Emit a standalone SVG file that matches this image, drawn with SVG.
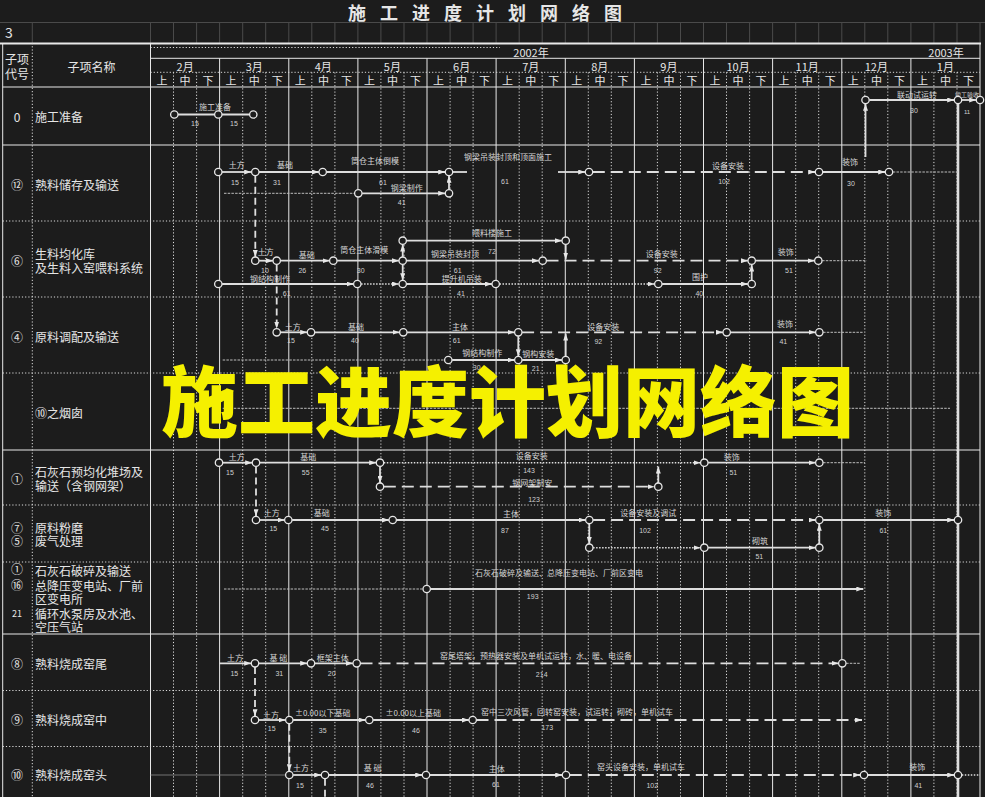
<svg xmlns="http://www.w3.org/2000/svg" width="985" height="797" viewBox="0 0 985 797">
<style>
.gs{stroke:#e8e8e8;stroke-width:1;fill:none}
.gd{stroke:#dcdcdc;stroke-width:1;stroke-dasharray:1.2 2;fill:none}
.gc{stroke:#4a4a4a;stroke-width:1;fill:none}
.t{font-family:"Noto Sans CJK SC","Noto Sans",sans-serif;fill:#e6e6e6}
.nm{font-size:12px}
.cd{font-size:12px;text-anchor:middle}
.hd{font-size:11px;text-anchor:middle}
.lb{font-family:"Noto Sans CJK SC",sans-serif;font-size:8px;fill:#d6d6d6;text-anchor:middle}
.nu{font-family:"Liberation Sans",sans-serif;font-size:7px;fill:#d0d0d0;text-anchor:middle}
.a{stroke:#dedede;stroke-width:1.8;fill:none}
.ds{stroke-dasharray:12 6}
.ds2{stroke-dasharray:7 4}
.vd{stroke-dasharray:1.5 1.5;stroke-width:1.5}
.wv{stroke:#bdbdbd;stroke-width:1;stroke-dasharray:2.5 1.2;fill:none}
.ar{marker-end:url(#ah)}
.nd{fill:#1c1c1c;stroke:#e6e6e6;stroke-width:1.3}
</style>
<defs>
<marker id="ah" viewBox="0 0 10 10" refX="10" refY="5" markerWidth="7" markerHeight="5" preserveAspectRatio="none" markerUnits="userSpaceOnUse" orient="auto"><path d="M0,0 L10,5 L0,10 z" fill="#e6e6e6"/></marker>
</defs>
<rect width="985" height="797" fill="#1c1c1c"/>

<g id="title">
<text class="t" style="font-size:18px;font-weight:bold" y="19.5" x="348 380 412 444 476 508 540 572 604">施工进度计划网络图</text>
</g>

<g id="sheet-row">
<path class="gc" d="M0 22.5H985M32.3 22.5V43M150.5 22.5V43M173.5 22.5V43M196.6 22.5V43M219.6 22.5V43M242.7 22.5V43M265.7 22.5V43M288.8 22.5V43M311.8 22.5V43M334.9 22.5V43M357.9 22.5V43M380.9 22.5V43M404 22.5V43M427 22.5V43M450.1 22.5V43M473.1 22.5V43M496.1 22.5V43M519.2 22.5V43M542.2 22.5V43M565.3 22.5V43M588.3 22.5V43M611.3 22.5V43M634.4 22.5V43M657.4 22.5V43M680.5 22.5V43M703.5 22.5V43M726.5 22.5V43M749.6 22.5V43M772.6 22.5V43M795.7 22.5V43M818.7 22.5V43M841.8 22.5V43M864.8 22.5V43M887.8 22.5V43M910.9 22.5V43M933.9 22.5V43M957 22.5V43M980 22.5V43"/>
<text class="t" style="font-size:14px" x="5" y="38">3</text>
</g>

<g id="grid">
<path class="gs" style="stroke-width:2.2" d="M0 43.5H981"/>
<path class="gs" d="M2.7 43V797M150.5 43V797M980 43V797M150.5 58.3H980M2.7 87H980M2.7 145H980M2.7 450H980M2.7 634H980"/>
<path class="gs" d="M219.6 58.3V797M288.8 58.3V797M357.9 58.3V797M427 58.3V797M496.1 58.3V797M565.3 58.3V797M634.4 58.3V797M703.5 58.3V797M772.6 58.3V797M841.8 58.3V797M910.9 58.3V797"/>
<path class="gd" d="M32.3 43V797M150.5 47.5H500M150.5 72.3H980M2.7 221H980M2.7 297H980M2.7 373H980M2.7 505H980M2.7 562H980M2.7 690.5H980M2.7 746.5H980"/>
<path class="gd" d="M173.5 72.3V797M196.6 72.3V797M242.7 72.3V797M265.7 72.3V797M311.8 72.3V797M334.9 72.3V797M380.9 72.3V797M404 72.3V797M450.1 72.3V797M473.1 72.3V797M519.2 72.3V797M542.2 72.3V797M588.3 72.3V797M611.3 72.3V797M657.4 72.3V797M680.5 72.3V797M726.5 72.3V797M749.6 72.3V797M795.7 72.3V797M818.7 72.3V797M864.8 72.3V797M887.8 72.3V797M933.9 72.3V797M957 72.3V797"/>
</g>

<g id="header">
<text class="t cd" x="17" y="64">子项</text>
<text class="t cd" x="17" y="78.5">代号</text>
<text class="t cd" x="91.5" y="71.5">子项名称</text>
<text class="t hd" x="531" y="57">2002年</text>
<text class="t hd" x="946" y="57">2003年</text>
<text class="t hd" x="185.1" y="70.5">2月</text><text class="t hd" x="254.2" y="70.5">3月</text><text class="t hd" x="323.3" y="70.5">4月</text><text class="t hd" x="392.4" y="70.5">5月</text><text class="t hd" x="461.6" y="70.5">6月</text><text class="t hd" x="530.7" y="70.5">7月</text><text class="t hd" x="599.8" y="70.5">8月</text><text class="t hd" x="668.9" y="70.5">9月</text><text class="t hd" x="738.1" y="70.5">10月</text><text class="t hd" x="807.2" y="70.5">11月</text><text class="t hd" x="876.3" y="70.5">12月</text><text class="t hd" x="945.4" y="70.5">1月</text>
<text class="t hd" y="85" x="162 185.1 208.1 231.1 254.2 277.2 300.3 323.4 346.4 369.4 392.5 415.5 438.5 461.6 484.6 507.6 530.7 553.7 576.8 599.9 622.9 645.9 669 692 715 738.1 761.1 784.1 807.2 830.2 853.3 876.4 899.4 922.4 945.5 968.5">上中下上中下上中下上中下上中下上中下上中下上中下上中下上中下上中下上中下</text>
</g>

<g id="item-0"><text class="t cd" x="17" y="121.5">0</text><text class="t nm" x="35" y="122">施工准备</text></g>
<g id="item-12"><text class="t cd" x="17" y="190">⑫</text><text class="t nm" x="35" y="190">熟料储存及输送</text></g>
<g id="item-6"><text class="t cd" x="17" y="266">⑥</text><text class="t nm" x="35" y="259">生料均化库</text><text class="t nm" x="35" y="273">及生料入窑喂料系统</text></g>
<g id="item-4"><text class="t cd" x="17" y="342">④</text><text class="t nm" x="35" y="342">原料调配及输送</text></g>
<g id="item-10a"><text class="t nm" x="35" y="418">⑩之烟囱</text></g>
<g id="item-1"><text class="t cd" x="17" y="484">①</text><text class="t nm" x="35" y="477">石灰石预均化堆场及</text><text class="t nm" x="35" y="491">输送（含钢网架）</text></g>
<g id="item-7-5"><text class="t cd" x="17" y="533">⑦</text><text class="t cd" x="17" y="546">⑤</text><text class="t nm" x="35" y="533">原料粉磨</text><text class="t nm" x="35" y="546">废气处理</text></g>
<g id="item-1-16-21"><text class="t cd" x="17" y="574">①</text><text class="t cd" x="17" y="589.5">⑯</text><text class="t cd" style="font-size:9px" x="17" y="616.5">21</text><text class="t nm" x="35" y="576">石灰石破碎及输送</text><text class="t nm" x="35" y="590.5">总降压变电站、厂前</text><text class="t nm" x="35" y="604">区变电所</text><text class="t nm" x="35" y="618.5">循环水泵房及水池、</text><text class="t nm" x="35" y="632">空压气站</text></g>
<g id="item-8"><text class="t cd" x="17" y="669">⑧</text><text class="t nm" x="35" y="669">熟料烧成窑尾</text></g>
<g id="item-9"><text class="t cd" x="17" y="724.5">⑨</text><text class="t nm" x="35" y="724.5">熟料烧成窑中</text></g>
<g id="item-10"><text class="t cd" x="17" y="779.5">⑩</text><text class="t nm" x="35" y="779.5">熟料烧成窑头</text></g>

<g id="connectors">
<path class="a" style="stroke-width:2" d="M178 114.5H214.6M222 114.5H249.6"/>
<path class="a ar" d="M869.3 100H954.2"/>
<path class="a ar" d="M961.8 100H976.2"/>
<path class="a ar" d="M865.5 157V103.8"/>
<path class="a" style="stroke-width:2.6" d="M958 103.8V797"/>

<path class="a ar" d="M222 172H251.2"/>
<path class="a ar" d="M258.8 172H318.9"/>
<path class="a ar" d="M326.5 172H445.2"/>
<path class="a" d="M452.8 172H467"/>
<path class="a ar" d="M558 172H585.2"/>
<path class="a ds ar" d="M592.8 172H815.2"/>
<path class="a ar" d="M822.8 172H885.2"/>
<path class="wv" d="M892.8 172H958"/>
<path class="wv" d="M224 193.3H354.5"/>
<path class="a ar" d="M362.1 193.3H445.2"/>
<path class="a ar" d="M449 189.5V175.8"/>
<path class="a ds2 ar" d="M255.3 175.8V256.9"/>

<path class="a ar" d="M259.1 260.7H272.9"/>
<path class="a ar" d="M280.5 260.7H329.5"/>
<path class="a ar" d="M337.1 260.7H398.9"/>
<path class="a ar" d="M406.5 260.7H538.9"/>
<path class="a ds ar" d="M546.5 260.7H747.9"/>
<path class="a ar" d="M755.5 260.7H814.5"/>
<path class="wv" d="M822.1 260.7H866.7"/>
<path class="a ar" d="M406.5 240.7H561.9"/>
<path class="a ar" d="M402.7 256.9V244.5"/>
<path class="a ar" d="M565.7 244.5V259.5"/>
<path class="a ar" d="M402.7 264.5V280.2"/>
<path class="a ar" d="M222.1 284H353.5"/>
<path class="a vd ar" d="M361.1 284H398.9"/>
<path class="a ar" d="M406.5 284H491.9"/>
<path class="a vd ar" d="M499.5 284H654.5"/>
<path class="a ar" d="M662.1 284H747.9"/>
<path class="a ar" d="M751.7 280.2V264.5"/>
<path class="a ds2 ar" d="M276.7 264.5V328.5"/>

<path class="a ar" d="M280.5 332.3H307.2"/>
<path class="a ar" d="M314.8 332.3H399.5"/>
<path class="a ar" d="M407.1 332.3H514.5"/>
<path class="a ds ar" d="M522.1 332.3H722.9"/>
<path class="a ar" d="M730.5 332.3H815.5"/>
<path class="wv" d="M823.1 332.3H863.3"/>
<path class="wv" d="M222.7 360H444.5"/>
<path class="a ar" d="M452.1 360H514.5"/>
<path class="a ar" d="M522.1 360H561.9"/>
<path class="a ar" d="M518.3 336.1V356.2"/>
<path class="a ar" d="M565.7 356.2V333.5"/>

<path class="wv" d="M222.7 408.3H950"/>

<path class="a ar" d="M222.8 462.7H252.2"/>
<path class="a ar" d="M259.8 462.7H376.2"/>
<path class="a vd ar" d="M383.8 462.7H700.5"/>
<path class="a ar" d="M708.1 462.7H815.5"/>
<path class="wv" d="M823.1 462.7H865"/>
<path class="a ds ar" d="M383.8 486.7H654.5"/>
<path class="a ar" d="M380 466.5V482.9"/>
<path class="a ar" d="M658.3 482.9V466.5"/>
<path class="a ds2 ar" d="M256 466.5V516.2"/>

<path class="a ar" d="M259.8 520H284.5"/>
<path class="a ar" d="M292.1 520H388.9"/>
<path class="a ar" d="M396.5 520H585.5"/>
<path class="a ds ar" d="M593.1 520H815.5"/>
<path class="a ar" d="M823.1 520H954.2"/>
<path class="a vd ar" d="M593.1 547.7H700.5"/>
<path class="a ar" d="M708.1 547.7H815.5"/>
<path class="a ar" d="M589.3 523.8V543.9"/>
<path class="a ar" d="M819.3 543.9V523.8"/>

<path class="wv" d="M224 589H422.9"/>
<path class="a ar" d="M430.5 589H863.3"/>

<path class="a ar" d="M219.3 663.3H251.2"/>
<path class="a ar" d="M258.8 663.3H307.2"/>
<path class="a ar" d="M314.8 663.3H352.9"/>
<path class="a ds ar" d="M360.5 663.3H838.5"/>
<path class="wv" d="M846.1 663.3H860"/>
<path class="a ds2 ar" d="M255 667.1V716.2"/>

<path class="a ar" d="M258.8 720H285.5"/>
<path class="a ar" d="M293.1 720H365.5"/>
<path class="a ar" d="M373.1 720H468.9"/>
<path class="a ds ar" d="M476.5 720H862"/>
<path class="a ds2 ar" d="M289.3 723.8V771.2"/>

<path style="stroke:#8a8a8a;stroke-width:0.8;fill:none" d="M150.5 775H285.5"/>
<path class="a ar" d="M293.1 775H321.2"/>
<path class="a ar" d="M328.8 775H422.2"/>
<path class="a ar" d="M429.8 775H562.2"/>
<path class="a ds ar" d="M569.8 775H860.2"/>
<path class="a ar" d="M867.8 775H954.2"/>
<path class="a vd" d="M961.8 775H980"/>
<path class="a ds2" d="M325 778.8V797"/>
</g>

<g id="labels">
<text class="lb" x="215" y="110.3">施工准备</text><text class="nu" x="195" y="125.5">15</text><text class="nu" x="234" y="125.5">15</text>
<text class="lb" x="917" y="97.5">联动试运转</text><text class="nu" x="914" y="112.5">30</text>
<text class="lb" style="font-size:6px" x="967" y="96.5">竣工验收</text><text class="nu" style="font-size:6px" x="967" y="114">11</text>

<text class="lb" x="236.7" y="168">土方</text><text class="nu" x="235" y="184.5">15</text>
<text class="lb" x="285" y="168">基础</text><text class="nu" x="277" y="184.5">31</text>
<text class="lb" x="375" y="164">筒仓主体倒模</text><text class="nu" x="383" y="184.5">61</text>
<text class="lb" x="508" y="160">钢梁吊装封顶和顶面施工</text><text class="nu" x="505" y="184">61</text>
<text class="lb" x="728" y="169">设备安装</text><text class="nu" x="724" y="183.5">102</text>
<text class="lb" x="850" y="165">装饰</text><text class="nu" x="851" y="186">30</text>
<text class="lb" x="406.7" y="190.7">钢梁制作</text><text class="nu" x="401.7" y="204.8">41</text>

<text class="lb" x="265.7" y="254.7">土方</text><text class="nu" x="265" y="272.5">10</text>
<text class="lb" x="306.7" y="258">基础</text><text class="nu" x="302.3" y="272.5">26</text>
<text class="lb" x="364.3" y="253">筒仓主体滑模</text><text class="nu" x="360.7" y="272.5">30</text>
<text class="lb" x="455" y="257.3">钢梁吊装封顶</text><text class="nu" x="457.7" y="272.5">61</text>
<text class="lb" x="661.7" y="257.3">设备安装</text><text class="nu" x="657.7" y="272.5">92</text>
<text class="lb" x="785.7" y="255.3">装饰</text><text class="nu" x="789" y="273">51</text>
<text class="lb" x="492" y="236.3">喂料楼施工</text><text class="nu" x="492" y="253.5">72</text>
<text class="lb" x="270" y="282">钢结构制作</text><text class="nu" x="286.7" y="296">61</text>
<text class="lb" x="461.7" y="281.5">提升机吊装</text><text class="nu" x="461" y="295.8">41</text>
<text class="lb" x="700" y="280.3">围护</text><text class="nu" x="699.3" y="295.8">40</text>

<text class="lb" x="292.7" y="329.7">土方</text><text class="nu" x="291" y="343.2">15</text>
<text class="lb" x="356" y="329.7">基础</text><text class="nu" x="355" y="343.2">40</text>
<text class="lb" x="460" y="329.7">主体</text><text class="nu" x="456.7" y="343.2">61</text>
<text class="lb" x="603.3" y="330.3">设备安装</text><text class="nu" x="598.3" y="344">92</text>
<text class="lb" x="785" y="327">装饰</text><text class="nu" x="783.3" y="344">41</text>
<text class="lb" x="482.3" y="355.7">钢结构制作</text><text class="nu" x="476.7" y="370">30</text>
<text class="lb" x="538.3" y="357">钢构安装</text><text class="nu" x="535.7" y="371">21</text>

<text class="lb" x="236.7" y="460.3">土方</text><text class="nu" x="230" y="475.2">15</text>
<text class="lb" x="308.3" y="460.3">基础</text><text class="nu" x="305.7" y="475.2">55</text>
<text class="lb" x="531.7" y="459">设备安装</text><text class="nu" x="529" y="473.2">143</text>
<text class="lb" x="731.7" y="460.3">装饰</text><text class="nu" x="733.3" y="474.5">51</text>
<text class="lb" x="532.3" y="485.7">钢网架制安</text><text class="nu" x="534" y="501.8">123</text>

<text class="lb" x="271.7" y="516.3">土方</text><text class="nu" x="273.3" y="531.2">15</text>
<text class="lb" x="321.7" y="516.3">基础</text><text class="nu" x="325" y="531.2">45</text>
<text class="lb" x="511" y="517.3">主体</text><text class="nu" x="505" y="532.5">87</text>
<text class="lb" x="648.3" y="515.7">设备安装及调试</text><text class="nu" x="645" y="532.5">102</text>
<text class="lb" x="883.3" y="516.3">装饰</text><text class="nu" x="883.3" y="533.2">61</text>
<text class="lb" x="760" y="543.7">砌筑</text><text class="nu" x="759.3" y="559.2">51</text>

<text class="lb" x="559" y="576.3">石灰石破碎及输送、总降压变电站、厂前区变电</text><text class="nu" x="532.7" y="599.2">193</text>

<text class="lb" x="235" y="661.3">土方</text><text class="nu" x="234.3" y="675.8">15</text>
<text class="lb" x="278.3" y="661.3">基 础</text><text class="nu" x="279.3" y="675.8">31</text>
<text class="lb" x="332.7" y="661.3">框架主体</text><text class="nu" x="331.7" y="675.8">20</text>
<text class="lb" x="536" y="658.7">窑尾塔架，预热器安装及单机试运转，水、暖、电设备</text><text class="nu" x="541.7" y="676.5">214</text>

<text class="lb" x="271" y="718">土方</text><text class="nu" x="271.7" y="730.8">15</text>
<text class="lb" x="322.7" y="715.7">±0.00以下基础</text><text class="nu" x="322.7" y="732.5">35</text>
<text class="lb" x="413.3" y="715.7">±0.00以上基础</text><text class="nu" x="416" y="732.5">46</text>
<text class="lb" x="577" y="715.3">窑中三次风管，回转窑安装，试运转，砌砖，单机试车</text><text class="nu" x="547.3" y="729.8">173</text>

<text class="lb" x="301" y="771.3">土方</text><text class="nu" x="300" y="787.5">15</text>
<text class="lb" x="372.7" y="771.3">基 础</text><text class="nu" x="370" y="787.5">46</text>
<text class="lb" x="496.7" y="772.3">主体</text><text class="nu" x="496" y="786.8">61</text>
<text class="lb" x="641" y="769.7">窑头设备安装，单机试车</text><text class="nu" x="652.3" y="787.5">102</text>
<text class="lb" x="917.3" y="769.7">装饰</text><text class="nu" x="918.3" y="787.5">41</text>
</g>

<g id="events">
<g id="e0-1"><circle class="nd" cx="174.3" cy="114.5" r="3.7"/></g>
<g id="e0-2"><circle class="nd" cx="218.3" cy="114.5" r="3.7"/></g>
<g id="e0-3"><circle class="nd" cx="253.3" cy="114.5" r="3.7"/></g>
<g id="e0-4"><circle class="nd" cx="865.5" cy="100" r="3.7"/></g>
<g id="e0-5"><circle class="nd" cx="958" cy="100" r="3.7"/></g>
<g id="e0-6"><circle class="nd" cx="980" cy="100" r="3.7"/></g>

<g id="e12-1"><circle class="nd" cx="218.3" cy="172" r="3.7"/></g>
<g id="e12-2"><circle class="nd" cx="255.3" cy="172" r="3.7"/></g>
<g id="e12-3"><circle class="nd" cx="322.7" cy="172" r="3.7"/></g>
<g id="e12-4"><circle class="nd" cx="449" cy="172" r="3.7"/></g>
<g id="e12-5"><circle class="nd" cx="589" cy="172" r="3.7"/></g>
<g id="e12-6"><circle class="nd" cx="819" cy="172" r="3.7"/></g>
<g id="e12-7"><circle class="nd" cx="889" cy="172" r="3.7"/></g>
<g id="e12-8"><circle class="nd" cx="358.3" cy="193.3" r="3.7"/></g>
<g id="e12-9"><circle class="nd" cx="449" cy="193.3" r="3.7"/></g>

<g id="e6-1"><circle class="nd" cx="255.3" cy="260.7" r="3.7"/></g>
<g id="e6-2"><circle class="nd" cx="276.7" cy="260.7" r="3.7"/></g>
<g id="e6-3"><circle class="nd" cx="333.3" cy="260.7" r="3.7"/></g>
<g id="e6-4"><circle class="nd" cx="402.7" cy="260.7" r="3.7"/></g>
<g id="e6-5"><circle class="nd" cx="542.7" cy="260.7" r="3.7"/></g>
<g id="e6-6"><circle class="nd" cx="751.7" cy="260.7" r="3.7"/></g>
<g id="e6-7"><circle class="nd" cx="818.3" cy="260.7" r="3.7"/></g>
<g id="e6-8"><circle class="nd" cx="402.7" cy="240.7" r="3.7"/></g>
<g id="e6-9"><circle class="nd" cx="565.7" cy="240.7" r="3.7"/></g>
<g id="e6-10"><circle class="nd" cx="218.3" cy="284" r="3.7"/></g>
<g id="e6-11"><circle class="nd" cx="357.3" cy="284" r="3.7"/></g>
<g id="e6-12"><circle class="nd" cx="402.7" cy="284" r="3.7"/></g>
<g id="e6-13"><circle class="nd" cx="495.7" cy="284" r="3.7"/></g>
<g id="e6-14"><circle class="nd" cx="658.3" cy="284" r="3.7"/></g>
<g id="e6-15"><circle class="nd" cx="751.7" cy="284" r="3.7"/></g>

<g id="e4-1"><circle class="nd" cx="276.7" cy="332.3" r="3.7"/></g>
<g id="e4-2"><circle class="nd" cx="311" cy="332.3" r="3.7"/></g>
<g id="e4-3"><circle class="nd" cx="403.3" cy="332.3" r="3.7"/></g>
<g id="e4-4"><circle class="nd" cx="518.3" cy="332.3" r="3.7"/></g>
<g id="e4-5"><circle class="nd" cx="726.7" cy="332.3" r="3.7"/></g>
<g id="e4-6"><circle class="nd" cx="819.3" cy="332.3" r="3.7"/></g>
<g id="e4-7"><circle class="nd" cx="448.3" cy="360" r="3.7"/></g>
<g id="e4-8"><circle class="nd" cx="518.3" cy="360" r="3.7"/></g>
<g id="e4-9"><circle class="nd" cx="565.7" cy="360" r="3.7"/></g>

<g id="e1-1"><circle class="nd" cx="219" cy="462.7" r="3.7"/></g>
<g id="e1-2"><circle class="nd" cx="256" cy="462.7" r="3.7"/></g>
<g id="e1-3"><circle class="nd" cx="380" cy="462.7" r="3.7"/></g>
<g id="e1-4"><circle class="nd" cx="704.3" cy="462.7" r="3.7"/></g>
<g id="e1-5"><circle class="nd" cx="819.3" cy="462.7" r="3.7"/></g>
<g id="e1-6"><circle class="nd" cx="380" cy="486.7" r="3.7"/></g>
<g id="e1-7"><circle class="nd" cx="658.3" cy="486.7" r="3.7"/></g>

<g id="e7-1"><circle class="nd" cx="256" cy="520" r="3.7"/></g>
<g id="e7-2"><circle class="nd" cx="288.3" cy="520" r="3.7"/></g>
<g id="e7-3"><circle class="nd" cx="392.7" cy="520" r="3.7"/></g>
<g id="e7-4"><circle class="nd" cx="589.3" cy="520" r="3.7"/></g>
<g id="e7-5"><circle class="nd" cx="819.3" cy="520" r="3.7"/></g>
<g id="e7-6"><circle class="nd" cx="958" cy="520" r="3.7"/></g>
<g id="e7-7"><circle class="nd" cx="589.3" cy="547.7" r="3.7"/></g>
<g id="e7-8"><circle class="nd" cx="704.3" cy="547.7" r="3.7"/></g>
<g id="e7-9"><circle class="nd" cx="819.3" cy="547.7" r="3.7"/></g>

<g id="e16-1"><circle class="nd" cx="426.7" cy="589" r="3.7"/></g>

<g id="e8-1"><circle class="nd" cx="255" cy="663.3" r="3.7"/></g>
<g id="e8-2"><circle class="nd" cx="311" cy="663.3" r="3.7"/></g>
<g id="e8-3"><circle class="nd" cx="356.7" cy="663.3" r="3.7"/></g>
<g id="e8-4"><circle class="nd" cx="842.3" cy="663.3" r="3.7"/></g>

<g id="e9-1"><circle class="nd" cx="255" cy="720" r="3.7"/></g>
<g id="e9-2"><circle class="nd" cx="289.3" cy="720" r="3.7"/></g>
<g id="e9-3"><circle class="nd" cx="369.3" cy="720" r="3.7"/></g>
<g id="e9-4"><circle class="nd" cx="472.7" cy="720" r="3.7"/></g>

<g id="e10-1"><circle class="nd" cx="289.3" cy="775" r="3.7"/></g>
<g id="e10-2"><circle class="nd" cx="325" cy="775" r="3.7"/></g>
<g id="e10-3"><circle class="nd" cx="426" cy="775" r="3.7"/></g>
<g id="e10-4"><circle class="nd" cx="566" cy="775" r="3.7"/></g>
<g id="e10-5"><circle class="nd" cx="864" cy="775" r="3.7"/></g>
<g id="e10-6"><circle class="nd" cx="958" cy="775" r="3.7"/></g>
</g>

<g id="overlay-title">
<text x="161" y="431" style="font-family:'Noto Sans CJK SC',sans-serif;font-size:77px;font-weight:900;fill:#f5f000">施工进度计划网络图</text>
</g>
</svg>
